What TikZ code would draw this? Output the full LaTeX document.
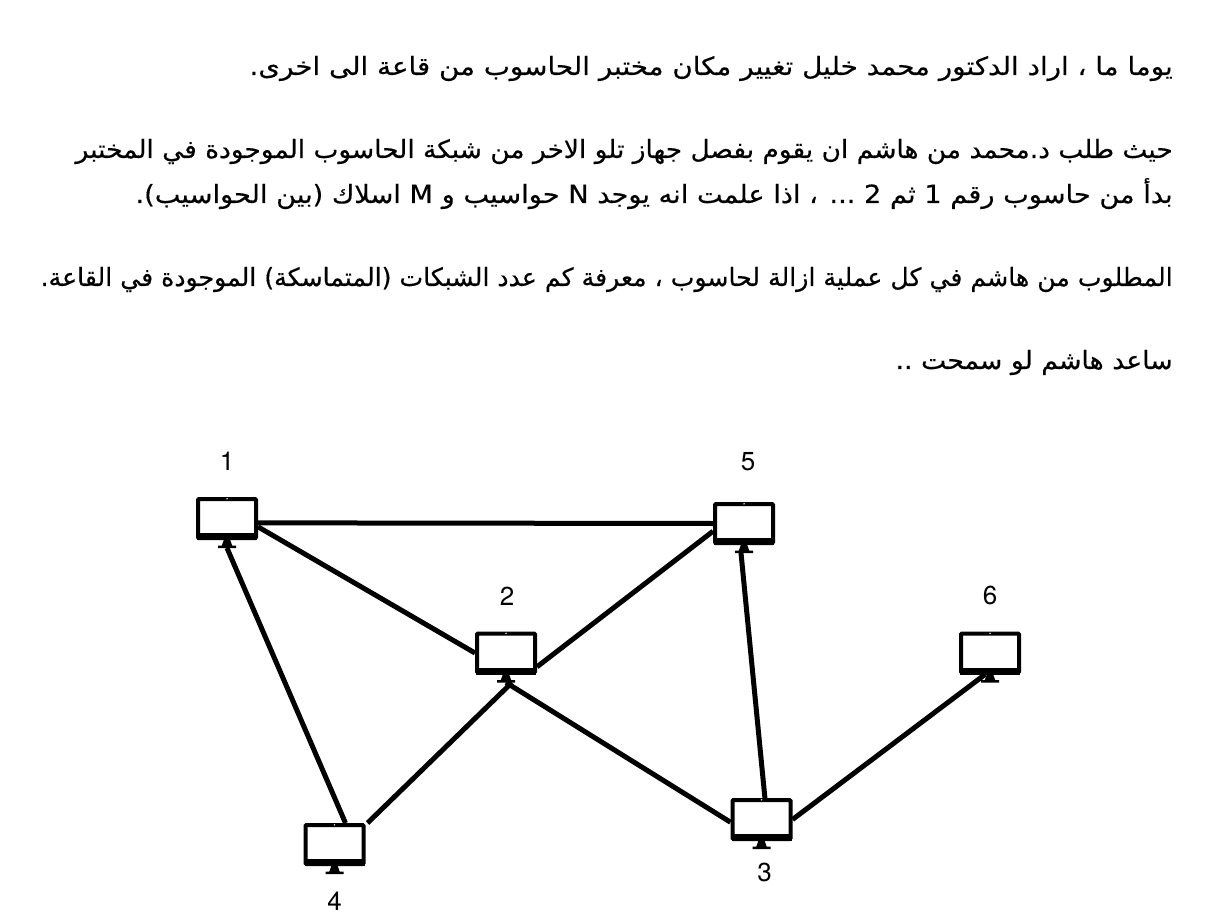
\documentclass[tikz,border=0pt]{standalone}
\usepackage{fontspec}
\setmainfont{TeX Gyre Heros}
\newfontfamily\arabicfont[Script=Arabic,FakeBold=0.4]{DejaVu Sans}
\TeXXeTstate=1
\usepackage{tikz}
\usetikzlibrary{positioning}
\newcommand\computer[2]{
    \node [screen] (#1) at (#2) {};
    \fill ([xshift=-15pt,yshift=3.5pt]#1.south) rectangle ([xshift=15pt]#1.south);
    \fill[white] ([yshift=-0.9pt]#1.north) circle (0.4pt);
    \fill ([xshift=-1.6pt]#1.south) -- ([xshift=1.6pt]#1.south) -- ([xshift=2.6pt,yshift=-2.8pt]#1.south) -- ([xshift=4.5pt,yshift=-2.8pt]#1.south) -- ([xshift=4.5pt,yshift=-4pt]#1.south) -- ([xshift=-4.5pt,yshift=-4pt]#1.south) -- ([xshift=-4.5pt,yshift=-2.8pt]#1.south) -- ([xshift=-2.6pt,yshift=-2.8pt]#1.south) -- cycle;
    \coordinate (#1-foot) at ([yshift=-4pt]#1.south);
}

\begin{document}
\begin{tikzpicture}[x=0.5pt,y=-0.5pt]
    \tikzstyle{screen} = [draw, rectangle, rounded corners=0.5pt, line width=2pt, minimum width=29pt, minimum height=19.5pt, inner sep=0pt]
    \tikzstyle{number} = [inner sep=0pt, font=\fontsize{13}{13}\selectfont]
    \tikzstyle{textline} = [anchor=base east, inner sep=0pt, font=\arabicfont\fontsize{12.5}{15}\selectfont]
    \tikzstyle{wire} = [line width=2.5pt]
    \useasboundingbox (0,0) rectangle (1218,924);

    \node [textline] (line1) at (1173,75) {\resizebox{461.5pt}{\height}{\beginR يوما ما ، اراد الدكتور محمد خليل تغيير مكان مختبر الحاسوب من قاعة الى اخرى.\endR}};
    \node [textline] (line2) at (1173,158) {\resizebox{548.5pt}{\height}{\beginR حيث طلب د.محمد من هاشم ان يقوم بفصل جهاز تلو الاخر من شبكة الحاسوب الموجودة في المختبر\endR}};
    \node [textline] (line3) at (1173,203) {\resizebox{518.5pt}{\height}{\beginR بدأ من حاسوب رقم 1 ثم 2 ... ، اذا علمت انه يوجد N حواسيب و M اسلاك (بين الحواسيب).\endR}};
    \node [textline] (line4) at (1173,286) {\resizebox{566pt}{\height}{\beginR المطلوب من هاشم في كل عملية ازالة لحاسوب ، معرفة كم عدد الشبكات (المتماسكة) الموجودة في القاعة.\endR}};
    \node [textline] (line5) at (1173,369) {\resizebox{138.5pt}{\height}{\beginR ساعد هاشم لو سمحت ..\endR}};

    \computer{pc1}{227,518.5}
    \computer{pc2}{506,653}
    \computer{pc3}{761.5,819.5}
    \computer{pc4}{334.5,844.5}
    \computer{pc5}{744,523.5}
    \computer{pc6}{990,653}

    \node [number, above = 13pt of pc1] (num1) {1};
    \node [number, above = 15.5pt of pc5, xshift=2pt] (num5) {5};
    \node [number, above = 13pt of pc2, xshift=0.5pt] (num2) {2};
    \node [number, above = 13pt of pc6] (num6) {6};
    \node [number, below = 11pt of pc3, xshift=1.5pt] (num3) {3};
    \node [number, below = 13pt of pc4] (num4) {4};

    \draw [wire] (pc1.-8.3) -- (pc5.west);
    \draw [wire] (pc1.-15) -- (pc2.west);
    \draw [wire] (pc2.-24) -- (pc5.194);
    \draw [wire] (pc1-foot) -- (pc4.63);
    \draw [wire] ([xshift=3pt]pc2-foot) -- ([xshift=1pt]pc4.north east);
    \draw [wire] (pc2-foot) -- (pc3.185);
    \draw [wire] (pc3.81) -- ([xshift=-1.5pt]pc5-foot);
    \draw [wire] (pc3.east) -- ([xshift=-2.5pt]pc6.south);
\end{tikzpicture}
\end{document}
